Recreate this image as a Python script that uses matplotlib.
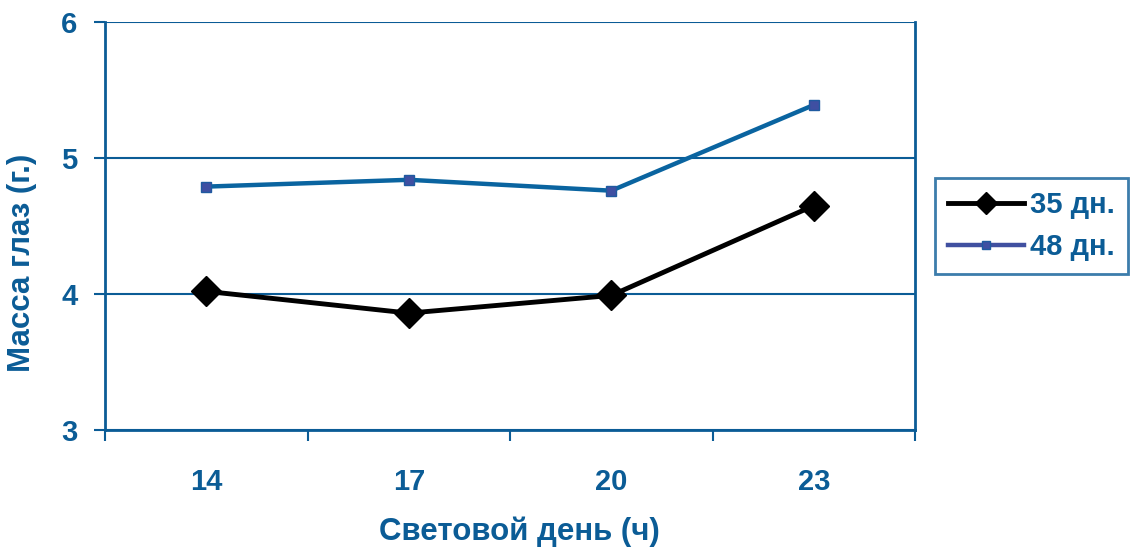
import matplotlib.pyplot as plt

plt.rcParams['font.family'] = ['Liberation Sans', 'DejaVu Sans']

# Данные
kategorii = ['14', '17', '20', '23']
seriya_35 = [4.02, 3.86, 3.99, 4.65]
seriya_48 = [4.79, 4.84, 4.76, 5.39]

sinij = '#0b5c96'
tekst = '#0b5c96'
fs = 21

fig = plt.figure(figsize=(11.31, 5.5), dpi=100)
ax = fig.add_axes([0.093, 0.218, 0.716, 0.742])

x = range(len(kategorii))
ax.plot(x, seriya_35, color='black', lw=3.5, marker='D', markersize=15,
        markerfacecolor='black', markeredgecolor='black', label='35 дн.', zorder=4)
ax.plot(x, seriya_48, color='#0a64a0', lw=3.2, marker='s', markersize=7.5,
        markerfacecolor='#3f4fa2', markeredgecolor='#1f5aa0', label='48 дн.', zorder=3)

ax.set_xlim(-0.5, 3.5)
ax.set_ylim(3, 6)
ax.set_yticks([3, 4, 5, 6])
ax.set_xticks([0, 1, 2, 3])
ax.set_xticklabels(kategorii)
ax.set_xticks([-0.5, 0.5, 1.5, 2.5, 3.5], minor=True)
ax.tick_params(axis='x', which='major', length=0, pad=27, labelsize=fs, labelcolor=tekst)
ax.tick_params(axis='x', which='minor', length=8, width=1.5, color=sinij, direction='out')
ax.tick_params(axis='y', length=8, width=1.5, color=sinij, direction='out',
               labelsize=fs, labelcolor=tekst, pad=12)
for lbl in ax.get_xticklabels() + ax.get_yticklabels():
    lbl.set_fontweight('bold')

ax.grid(axis='y', color=sinij, lw=1.5)
ax.set_axisbelow(True)
for s in ['left', 'right', 'bottom']:
    ax.spines[s].set_color(sinij)
    ax.spines[s].set_linewidth(2)
ax.spines['top'].set_visible(False)

ax.set_ylabel('Масса глаз (г.)', fontsize=22.5, fontweight='bold', color=tekst)
ax.yaxis.set_label_coords(-0.084, 0.41)
ax.set_xlabel('Световой день (ч)', fontsize=22.5, fontweight='bold', color=tekst)
ax.xaxis.set_label_coords(0.511, -0.212)

leg = ax.legend(loc='center left', bbox_to_anchor=(1.025, 0.5), frameon=True,
                fancybox=False, prop={'size': fs, 'weight': 'bold'},
                handlelength=2.6, handletextpad=0.2, borderpad=0.45,
                labelspacing=0.5, borderaxespad=0, markerscale=0.75)
leg.get_frame().set_edgecolor(sinij)
leg.get_frame().set_linewidth(2)
leg.get_lines()[1].set_color('#4050a0')
for t in leg.get_texts():
    t.set_color(tekst)

fig.savefig('out.png', dpi=100)
